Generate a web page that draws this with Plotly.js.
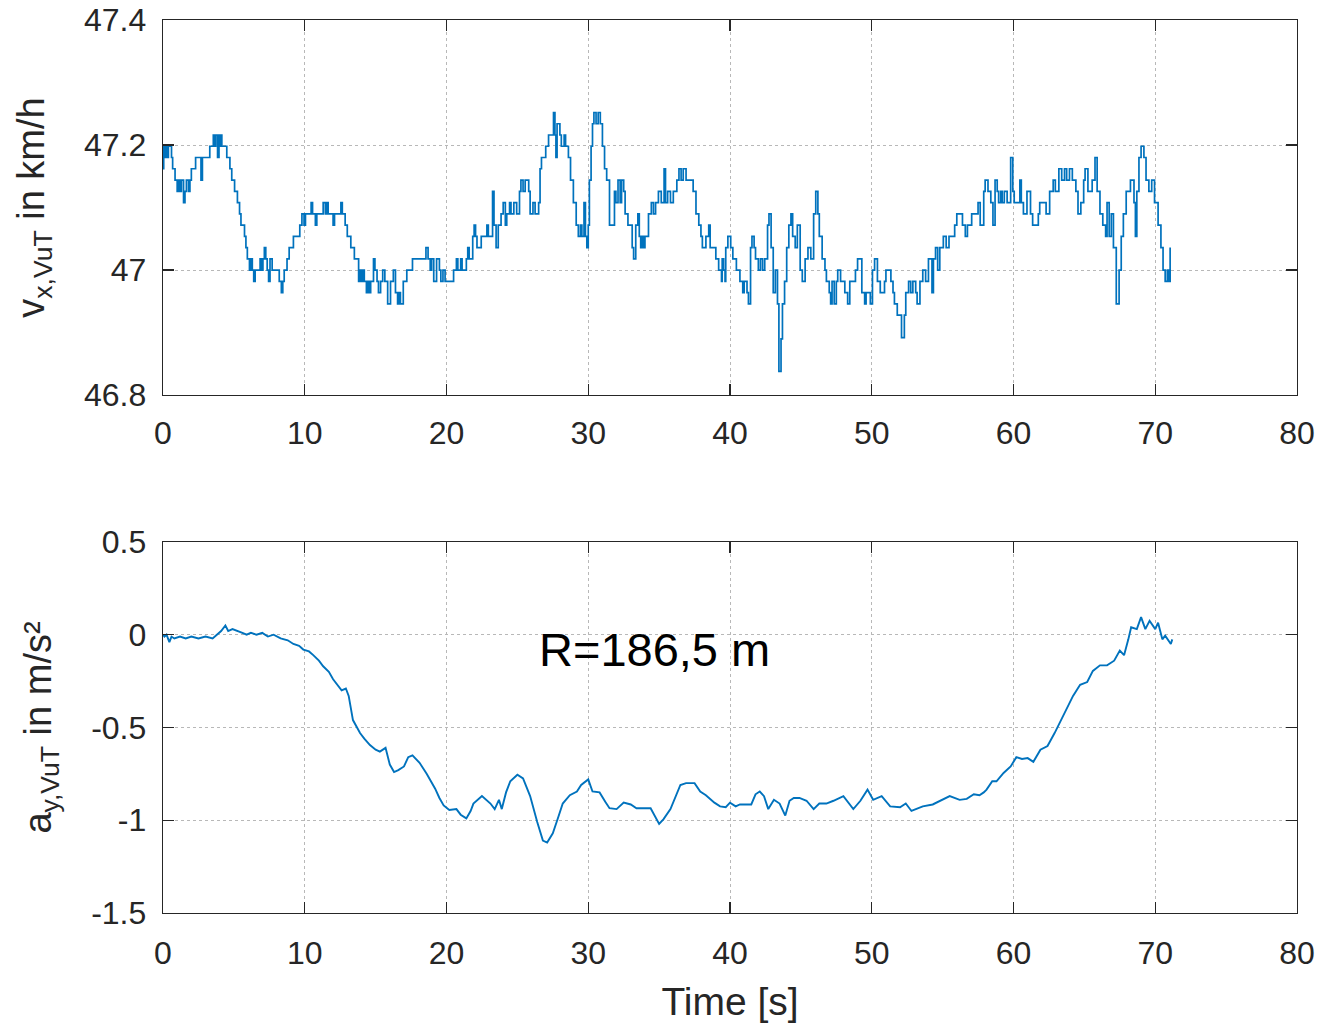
<!DOCTYPE html>
<html>
<head>
<meta charset="utf-8">
<script src="https://cdn.plot.ly/plotly-3.0.1.min.js"></script>
<style>html,body{margin:0;padding:0;background:#fff;}#chart{width:1327px;height:1030px;}</style>
</head>
<body>
<div id="chart"></div>
<script>
// ---- top subplot: longitudinal speed v_x,VuT (km/h) ----
const speedTime = [0.00,0.05,0.15,0.22,0.30,0.38,0.60,0.68,0.85,1.00,1.10,1.20,1.30,1.45,1.55,1.65,1.80,1.90,2.00,2.30,2.68,2.78,3.30,3.55,3.65,3.72,3.85,3.95,4.05,4.10,4.15,4.50,4.72,4.85,5.05,5.25,5.40,5.50,5.75,5.85,5.95,6.10,6.20,6.30,6.40,6.50,6.85,6.95,7.05,7.15,7.25,7.35,7.45,7.55,7.70,8.20,8.35,8.45,8.55,8.75,8.90,9.20,9.65,9.80,9.95,10.05,10.45,10.55,10.75,10.85,11.30,11.45,11.55,11.65,12.00,12.10,12.55,12.65,12.85,13.00,13.25,13.50,13.80,13.90,14.00,14.10,14.20,14.35,14.45,14.55,14.65,14.85,14.95,15.10,15.20,15.35,15.50,15.65,15.85,16.05,16.25,16.40,16.55,16.65,16.75,16.95,17.20,17.60,18.55,18.70,18.85,18.95,19.10,19.30,19.50,19.60,19.75,19.90,20.50,20.70,20.80,21.00,21.10,21.40,21.50,21.60,21.85,21.95,22.05,22.15,22.45,22.85,22.95,23.25,23.35,23.50,23.65,23.85,24.00,24.15,24.25,24.45,24.55,24.75,24.95,25.15,25.25,25.40,25.55,25.80,25.90,26.10,26.25,26.50,26.60,26.70,27.00,27.20,27.55,27.65,27.72,27.80,28.00,28.10,28.30,28.40,28.60,28.75,28.95,29.15,29.30,29.45,29.55,29.70,29.80,29.90,30.00,30.08,30.20,30.30,30.40,30.55,30.70,30.85,31.00,31.15,31.30,31.50,31.85,31.95,32.10,32.25,32.35,32.50,32.60,32.80,33.10,33.20,33.35,33.50,33.60,33.70,33.80,33.90,34.00,34.25,34.45,34.60,34.75,34.95,35.15,35.35,35.45,35.60,35.80,36.00,36.25,36.40,36.55,36.70,36.90,37.40,37.60,37.80,37.95,38.05,38.30,38.50,38.60,39.00,39.20,39.40,39.45,39.55,39.65,39.70,39.85,40.05,40.20,40.45,40.70,40.90,41.00,41.20,41.30,41.45,41.55,41.70,41.80,42.00,42.15,42.30,42.45,42.65,42.75,42.90,43.05,43.20,43.35,43.45,43.60,43.70,43.85,44.00,44.15,44.30,44.42,44.60,44.75,44.95,45.10,45.30,45.50,45.70,45.90,46.05,46.20,46.30,46.50,46.70,46.80,47.00,47.10,47.20,47.35,47.50,47.60,47.80,48.10,48.30,48.45,48.85,49.00,49.30,49.50,49.60,49.90,50.05,50.20,50.40,50.60,50.90,51.00,51.35,51.50,51.60,51.80,52.10,52.30,52.40,52.60,52.75,52.90,53.10,53.20,53.40,53.60,53.80,54.00,54.25,54.35,54.50,54.65,54.80,55.05,55.25,55.45,55.85,56.00,56.40,56.60,56.75,57.05,57.50,57.65,57.90,58.00,58.20,58.40,58.55,58.70,58.85,58.95,59.10,59.20,59.35,59.55,59.80,59.95,60.05,60.45,60.55,60.70,60.95,61.20,61.35,61.75,61.85,62.30,62.55,62.80,62.95,63.20,63.40,63.60,63.75,63.95,64.15,64.40,64.55,64.75,64.95,65.05,65.25,65.55,65.75,65.90,66.10,66.30,66.50,66.60,66.75,66.90,67.05,67.25,67.45,67.60,67.75,67.95,68.25,68.50,68.60,68.70,68.85,69.00,69.20,69.35,69.55,69.75,69.95,70.20,70.40,70.55,70.70,70.85,70.95,71.05];
const speedValue = [47.162,47.198,47.180,47.198,47.180,47.198,47.180,47.162,47.144,47.126,47.144,47.126,47.144,47.108,47.126,47.144,47.126,47.144,47.162,47.180,47.144,47.180,47.198,47.216,47.198,47.216,47.180,47.216,47.198,47.216,47.198,47.180,47.162,47.144,47.126,47.108,47.090,47.072,47.054,47.036,47.018,47.000,47.018,47.000,46.982,47.000,47.018,47.000,47.018,47.036,47.018,47.000,46.982,47.018,47.000,46.982,46.964,46.982,47.000,47.018,47.036,47.054,47.072,47.090,47.072,47.090,47.108,47.090,47.072,47.090,47.108,47.090,47.108,47.090,47.072,47.090,47.108,47.090,47.072,47.054,47.036,47.018,46.982,47.000,46.982,47.000,46.982,46.964,46.982,46.964,46.982,47.018,47.000,46.982,46.964,46.982,47.000,46.982,46.946,46.982,47.000,46.964,46.946,46.964,46.946,46.982,47.000,47.018,47.036,47.018,47.000,47.018,46.982,47.018,47.000,46.982,47.000,46.982,47.000,47.018,47.000,47.018,47.000,47.018,47.036,47.018,47.054,47.072,47.054,47.036,47.054,47.072,47.054,47.126,47.072,47.036,47.072,47.090,47.108,47.072,47.090,47.108,47.090,47.108,47.090,47.126,47.144,47.126,47.144,47.126,47.090,47.108,47.090,47.108,47.162,47.180,47.198,47.216,47.252,47.216,47.180,47.234,47.216,47.198,47.216,47.198,47.180,47.144,47.108,47.072,47.054,47.072,47.054,47.108,47.054,47.036,47.072,47.144,47.198,47.234,47.252,47.234,47.252,47.234,47.198,47.162,47.144,47.072,47.126,47.108,47.144,47.108,47.144,47.126,47.090,47.072,47.036,47.018,47.072,47.090,47.054,47.036,47.054,47.036,47.054,47.090,47.108,47.090,47.108,47.126,47.108,47.162,47.108,47.126,47.108,47.126,47.144,47.162,47.144,47.162,47.144,47.126,47.090,47.072,47.054,47.036,47.054,47.072,47.036,47.018,47.000,46.982,47.018,47.000,46.982,47.036,47.054,47.036,47.018,47.000,46.982,46.964,46.982,46.964,46.946,47.036,47.054,47.036,47.018,47.000,47.018,47.000,47.018,47.072,47.090,47.036,46.964,47.000,46.946,46.838,46.890,46.946,46.982,47.036,47.072,47.090,47.054,47.036,47.072,47.000,46.982,47.018,47.036,47.018,47.090,47.126,47.090,47.054,47.018,47.000,46.982,46.964,46.946,46.982,46.946,46.982,47.000,46.982,46.964,46.946,46.982,47.000,47.018,46.964,46.946,46.964,46.946,47.000,47.018,46.982,46.964,46.982,47.000,46.982,46.964,46.946,46.928,46.892,46.928,46.964,46.982,46.964,46.982,46.964,46.946,46.982,47.000,46.982,47.018,46.964,47.018,47.036,47.000,47.036,47.054,47.036,47.054,47.072,47.090,47.072,47.054,47.072,47.090,47.108,47.072,47.126,47.144,47.126,47.108,47.072,47.144,47.126,47.108,47.126,47.108,47.126,47.108,47.180,47.126,47.108,47.144,47.108,47.090,47.126,47.090,47.072,47.090,47.108,47.090,47.126,47.144,47.126,47.162,47.144,47.162,47.144,47.162,47.144,47.126,47.090,47.108,47.144,47.162,47.126,47.144,47.180,47.126,47.090,47.072,47.054,47.108,47.054,47.090,47.036,46.946,47.000,47.054,47.090,47.126,47.144,47.108,47.054,47.126,47.180,47.198,47.180,47.144,47.126,47.144,47.108,47.072,47.036,47.000,46.982,47.000,46.982,47.036];

// ---- bottom subplot: lateral acceleration a_y,VuT (m/s²) ----
const accelTime = [0.00,0.10,0.25,0.45,0.60,0.80,1.20,1.60,2.00,2.50,3.00,3.50,3.80,4.10,4.40,4.60,4.90,5.30,5.60,5.90,6.20,6.60,7.00,7.40,7.80,8.30,8.80,9.20,9.60,9.90,10.30,10.60,11.00,11.30,11.70,12.00,12.40,12.60,12.90,13.10,13.40,13.70,13.90,14.20,14.60,15.00,15.30,15.70,16.00,16.30,16.60,17.00,17.30,17.60,18.10,18.60,19.00,19.20,19.50,19.80,20.20,20.70,21.00,21.40,21.70,21.90,22.50,22.80,23.10,23.40,23.70,23.90,24.20,24.50,25.00,25.40,25.90,26.40,26.80,27.10,27.50,27.90,28.20,28.70,29.20,29.50,30.00,30.30,30.80,31.20,31.50,32.00,32.50,33.00,33.40,34.40,35.00,35.30,35.80,36.50,36.90,37.50,37.90,38.30,38.90,39.30,39.70,40.00,40.40,40.70,41.50,41.80,42.10,42.40,42.70,43.10,43.50,43.90,44.20,44.50,44.90,45.40,45.90,46.30,46.80,47.30,48.00,48.70,49.20,49.70,50.10,50.70,51.30,52.00,52.40,52.80,53.60,54.30,54.80,55.50,56.20,56.70,57.20,57.60,57.90,58.10,58.50,58.80,59.30,59.80,60.20,60.60,61.00,61.40,61.90,62.40,62.90,63.30,63.80,64.20,64.70,65.20,65.60,66.10,66.60,67.10,67.50,67.80,68.10,68.30,68.70,69.00,69.30,69.60,70.00,70.20,70.50,70.70,71.10,71.20];
const accelValue = [0.00,-0.01,0.00,-0.04,-0.01,-0.02,-0.01,-0.02,-0.01,-0.02,-0.01,-0.02,0.00,0.02,0.05,0.02,0.03,0.02,0.01,0.00,0.01,0.00,0.01,-0.01,0.00,-0.02,-0.03,-0.05,-0.06,-0.08,-0.09,-0.11,-0.14,-0.17,-0.20,-0.24,-0.28,-0.30,-0.29,-0.33,-0.46,-0.50,-0.53,-0.56,-0.595,-0.62,-0.63,-0.61,-0.70,-0.74,-0.73,-0.71,-0.66,-0.65,-0.69,-0.75,-0.80,-0.83,-0.88,-0.92,-0.945,-0.94,-0.97,-0.99,-0.95,-0.91,-0.87,-0.89,-0.91,-0.94,-0.89,-0.94,-0.85,-0.79,-0.755,-0.775,-0.87,-1.01,-1.11,-1.12,-1.07,-0.98,-0.91,-0.865,-0.845,-0.81,-0.78,-0.845,-0.85,-0.90,-0.935,-0.94,-0.905,-0.915,-0.935,-0.935,-1.02,-0.995,-0.94,-0.81,-0.80,-0.80,-0.845,-0.865,-0.905,-0.925,-0.93,-0.905,-0.925,-0.915,-0.915,-0.86,-0.845,-0.87,-0.94,-0.89,-0.91,-0.975,-0.895,-0.88,-0.88,-0.895,-0.94,-0.91,-0.91,-0.895,-0.87,-0.94,-0.895,-0.835,-0.89,-0.87,-0.925,-0.93,-0.91,-0.95,-0.925,-0.915,-0.895,-0.87,-0.89,-0.885,-0.86,-0.865,-0.85,-0.835,-0.79,-0.79,-0.745,-0.71,-0.66,-0.67,-0.665,-0.685,-0.62,-0.60,-0.53,-0.47,-0.39,-0.33,-0.27,-0.255,-0.195,-0.165,-0.165,-0.14,-0.085,-0.11,-0.025,0.04,0.03,0.095,0.03,0.075,0.03,0.065,-0.025,-0.005,-0.05,-0.025];

// ---- ticks and labels ----
const timeTicks = [0,10,20,30,40,50,60,70,80];
const speedTicks = [46.8,47,47.2,47.4];
const speedTickLabels = ['46.8','47','47.2','47.4'];
const accelTicks = [-1.5,-1,-0.5,0,0.5];
const accelTickLabels = ['-1.5','-1','-0.5','0','0.5'];
const speedTitle = 'v<sub>x,VuT</sub> in km/h';
const accelTitle = 'a<sub>y,VuT</sub> in m/s²';
const timeTitle = 'Time [s]';
const radiusLabel = 'R=186,5 m';

const FONT = 'Liberation Sans, Arial, Helvetica, sans-serif';
const INK = '#262626';
const LINE = '#0072BD';

const axisCommon = {
  showline: true, mirror: 'ticks', linecolor: INK, linewidth: 1.3,
  ticks: 'inside', ticklen: 11, tickwidth: 1.3, tickcolor: INK,
  showgrid: true, gridcolor: '#b8b8b8', griddash: 'dot', gridwidth: 1,
  zeroline: false, tickfont: {family: FONT, size: 32, color: INK}
};

const traces = [
  {x: speedTime, y: speedValue, xaxis: 'x', yaxis: 'y', type: 'scatter', mode: 'lines',
   line: {color: LINE, width: 1.7, shape: 'hv'}, hoverinfo: 'skip'},
  {x: accelTime, y: accelValue, xaxis: 'x2', yaxis: 'y2', type: 'scatter', mode: 'lines',
   line: {color: LINE, width: 1.9}, hoverinfo: 'skip'}
];

const layout = {
  width: 1327, height: 1030,
  margin: {l: 163, r: 30, t: 20, b: 117},
  paper_bgcolor: '#ffffff', plot_bgcolor: '#ffffff',
  showlegend: false,
  font: {family: FONT, color: INK},
  xaxis: Object.assign({}, axisCommon, {domain: [0, 1], anchor: 'y', range: [0, 80], tickvals: timeTicks,
    ticklabelstandoff: 9}),
  yaxis: Object.assign({}, axisCommon, {domain: [0.58, 1], anchor: 'x', range: [46.8, 47.4],
    tickvals: speedTicks, ticktext: speedTickLabels, ticklabelstandoff: 9,
    title: {text: speedTitle, font: {family: FONT, size: 38, color: INK}, standoff: 27}}),
  xaxis2: Object.assign({}, axisCommon, {domain: [0, 1], anchor: 'y2', range: [0, 80], tickvals: timeTicks,
    ticklabelstandoff: 11,
    title: {text: timeTitle, font: {family: FONT, size: 39, color: INK}, standoff: 18}}),
  yaxis2: Object.assign({}, axisCommon, {domain: [0, 0.4155], anchor: 'x2', range: [-1.5, 0.5],
    tickvals: accelTicks, ticktext: accelTickLabels, ticklabelstandoff: 9,
    title: {text: accelTitle, font: {family: FONT, size: 38, color: INK}, standoff: 27}}),
  annotations: [
    {text: radiusLabel, x: 34.7, y: -0.08, xref: 'x2', yref: 'y2', showarrow: false,
     font: {family: FONT, size: 47, color: '#000000'}, xanchor: 'center', yanchor: 'middle'}
  ]
};

Plotly.newPlot('chart', traces, layout, {displayModeBar: false, staticPlot: true});
</script>
</body>
</html>
